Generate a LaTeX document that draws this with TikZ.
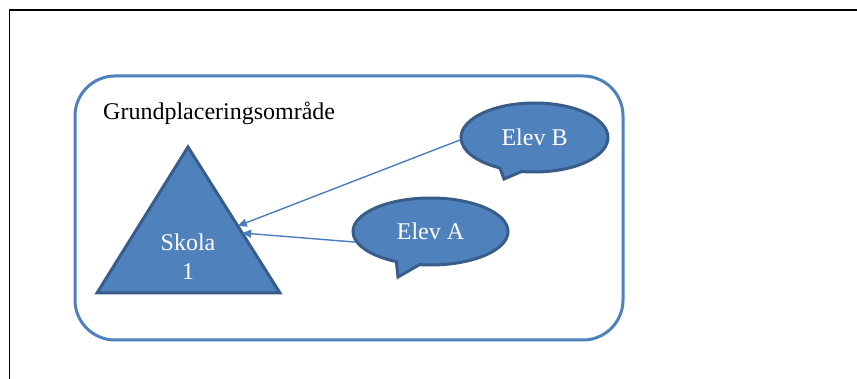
\documentclass[tikz,border=0pt]{standalone}
\usepackage{fontspec}
\setmainfont{Liberation Serif}
\usetikzlibrary{shapes.callouts,arrows.meta,calc}
\definecolor{offblue}{HTML}{4F81BD}
\definecolor{offdark}{HTML}{385D8A}
\definecolor{arrowblue}{HTML}{4A7EBB}
\begin{document}
\begin{tikzpicture}[x=1pt,y=-1pt,
  framestyle/.style={line width=1.5pt,black},
  areastyle/.style={draw=offblue,line width=3pt,rounded corners=40pt},
  shapefill/.style={fill=offblue,draw=offdark,line width=3pt},
  bubble/.style={ellipse callout,shapefill,inner sep=0pt,text=white,
    font=\fontsize{24}{29}\selectfont,callout pointer arc=18},
  labeltext/.style={font=\fontsize{24}{29}\selectfont,inner sep=0pt},
  conn/.style={draw=arrowblue,line width=1.4pt,-{Triangle[length=9pt,width=8pt]}}]
\useasboundingbox (0,0) rectangle (857,379);
\fill[white] (0,0) rectangle (857,379);
% frame
\coordinate (fr1) at (9.5,400);
\coordinate (fr2) at (9.5,10);
\coordinate (fr3) at (870,10);
\draw[framestyle] (fr1) -- (fr2) -- (fr3);
% area
\coordinate (ar1) at (75,76);
\coordinate (ar2) at (623,340);
\draw[areastyle] (ar1) rectangle (ar2);
\node[labeltext,anchor=base west] (title) at (103,120) {Grundplaceringsområde};
% triangle
\coordinate (apex) at (188,147);
\coordinate (bl) at (97,293);
\coordinate (br) at (280,293);
\draw[shapefill,line join=miter] (apex) -- (br) -- (bl) -- cycle;
\node[labeltext,text=white,align=center] (skola) at (188,257) {Skola\\1};
\coordinate (tipB) at ($(apex)!0.541!(br)$);
\coordinate (tipA) at ($(apex)!0.589!(br)$);
% bubbles
\node[bubble,minimum width=147pt,minimum height=69pt,
  callout absolute pointer={(504,179)}] (eb) at (534.5,137.5) {Elev B};
\node[bubble,minimum width=155pt,minimum height=67pt,
  callout absolute pointer={(398,277)}] (ea) at (430.5,231.5) {Elev A};
% connectors
\draw[conn] (eb.182) -- (tipB);
\draw[conn] (ea.188) -- (tipA);
\end{tikzpicture}
\end{document}
